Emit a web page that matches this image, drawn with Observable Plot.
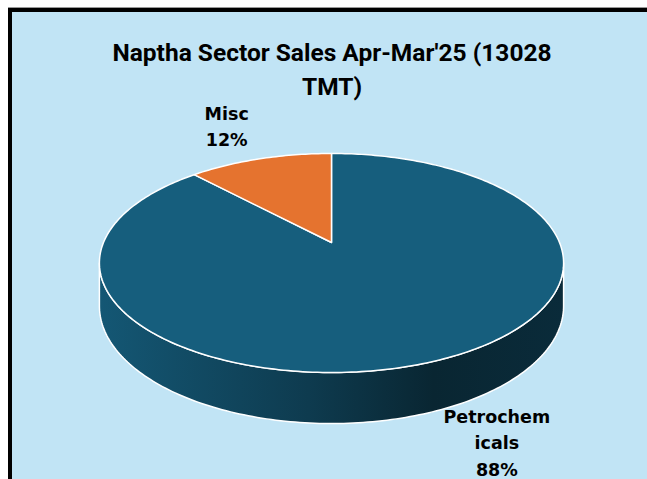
<!DOCTYPE html>
<html><head><meta charset="utf-8">
<script src="https://cdn.jsdelivr.net/npm/d3@7"></script>
<script src="https://cdn.jsdelivr.net/npm/@observablehq/plot@0.6"></script>
<style>
html,body{margin:0;padding:0;background:#fff;}
#wrap{position:relative;width:647px;height:479px;overflow:hidden;}
#bg{position:absolute;left:8px;top:8px;right:0;bottom:0;background:#C1E4F5;border-left:4px solid #000;border-top:4px solid #000;box-shadow:0 -1px 0 #999;}
#chart{position:absolute;left:0;top:0;}
</style></head><body>
<div id="wrap"><div id="bg"></div><div id="chart"></div></div>
<script>
// ---- data ----
const categories = ["Petrochemicals", "Misc"];
const shares = [88, 12];               // percent of 13028 TMT
const sliceColors = ["#165E7D", "#E5732F"];
const titleLines = ["Naptha Sector Sales Apr-Mar'25 (13028", "TMT)"];

// ---- 3D pie projection (perspective tilt) ----
const W = 647, H = 479;
const cx = 331, cy = 242, kx = 228, ky = 105.7, depth = 41.5, persp = 0.187;
function proj(r, theta, h) {
  const u = r * Math.sin(theta), v = -r * Math.cos(theta);
  const den = 1 - persp * v;
  return [cx + kx * u / den, cy + (ky * v + depth * h) / den];
}
const arcs = d3.pie().sort(null)(shares);
const rad = Math.PI / 180;

const topPts = [];
const sidePts = [];
const thR = Math.acos(-persp), thL = 2 * Math.PI - thR; // visible front wall limits
arcs.forEach((a, i) => {
  const id = categories[i];
  topPts.push({id, x: cx, y: cy, c: sliceColors[i]});
  const n = Math.max(2, Math.ceil((a.endAngle - a.startAngle) / rad));
  for (let k = 0; k <= n; k++) {
    const t = a.startAngle + (a.endAngle - a.startAngle) * k / n;
    const [x, y] = proj(1, t, 0);
    topPts.push({id, x, y, c: sliceColors[i]});
  }
  const s = Math.max(a.startAngle, thR), e = Math.min(a.endAngle, thL);
  if (e > s) {
    const m = Math.max(2, Math.ceil((e - s) / rad));
    const fill = `url(#side${i})`;
    for (let k = 0; k <= m; k++) {
      const t = s + (e - s) * k / m;
      const [x, y] = proj(1, t, 0);
      sidePts.push({id, x, y, c: fill});
    }
    for (let k = m; k >= 0; k--) {
      const t = s + (e - s) * k / m;
      const [x, y] = proj(1, t, 1);
      sidePts.push({id, x, y, c: fill});
    }
  }
});

const labels = arcs.map((a, i) => {
  const mid = (a.startAngle + a.endAngle) / 2;
  const [x, y] = proj(1.5, mid, 0);
  const name = categories[i];
  const wrapped = name.length > 9 ? name.slice(0, 9) + "\n" + name.slice(9) : name;
  return {x, y, text: wrapped + "\n" + shares[i] + "%"};
});

const plot = Plot.plot({
  width: W, height: H, margin: 0,
  x: {domain: [0, W], range: [0, W], axis: null},
  y: {domain: [0, H], range: [0, H], axis: null},
  color: {type: "identity"},
  style: {background: "transparent", overflow: "visible"},
  marks: [
    Plot.line(sidePts, {x: "x", y: "y", z: "id", fill: "c", stroke: "#ffffff", strokeWidth: 1.5, curve: "linear-closed"}),
    Plot.line(topPts, {x: "x", y: "y", z: "id", fill: "c", stroke: "#ffffff", strokeWidth: 1.5, curve: "linear-closed", strokeLinejoin: "round"}),
    Plot.text([titleLines.join("\n")], {frameAnchor: "top", text: d => d, dx: 8, dy: 37, lineAnchor: "top", lineHeight: 1.37,
      fontSize: 24.5, fontWeight: 700, fontFamily: "Roboto", fill: "#000"}),
    Plot.text(labels, {x: "x", y: "y", text: "text", dx: -5, dy: -1, lineHeight: 1.52, fontSize: 17.5, fontWeight: 700,
      fontFamily: "DejaVu Sans", fill: "#000"})
  ]
});

// side-wall shading gradients
const defs = d3.select(plot).insert("defs", ":first-child");
sliceColors.forEach((c, i) => {
  const g = defs.append("linearGradient").attr("id", `side${i}`).attr("x1", 0).attr("x2", 1).attr("y1", 0).attr("y2", 0);
  [[0, 0.93], [0.45, 0.63], [0.72, 0.40], [1, 0.46]].forEach(([o, f]) => {
    g.append("stop").attr("offset", o).attr("stop-color", d3.interpolateRgb("#000", c)(f));
  });
});
document.getElementById("chart").appendChild(plot);
</script>
</body></html>
